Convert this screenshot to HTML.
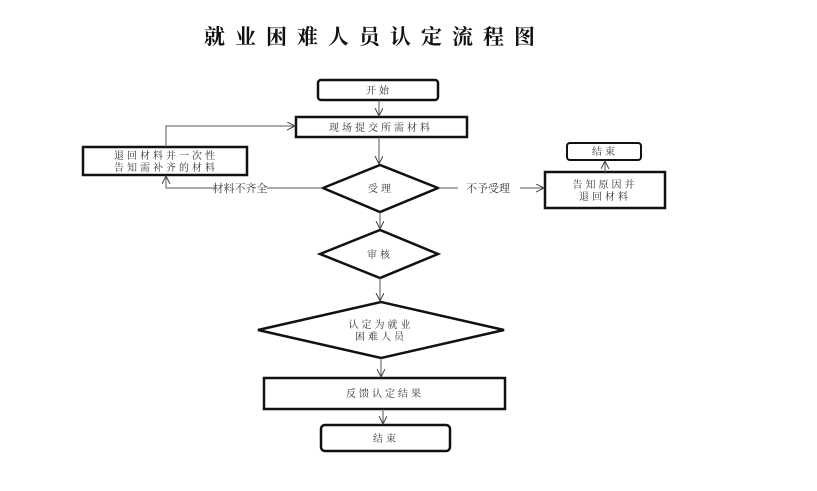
<!DOCTYPE html>
<html><head><meta charset="utf-8"><style>
body{margin:0;background:#fff;width:817px;height:486px;overflow:hidden}
svg text{font-family:"Liberation Serif","Noto Serif CJK SC","Noto Sans CJK SC",serif;fill:#333}
</style></head><body>
<svg width="817" height="486" xmlns="http://www.w3.org/2000/svg">
<defs><marker id="a" markerWidth="10" markerHeight="10" refX="8" refY="4" orient="auto" markerUnits="userSpaceOnUse"><path d="M0,0 L8,4 L0,8" fill="none" stroke="#444" stroke-width="1"/></marker></defs>
<text x="204" y="44" font-size="21" font-weight="bold" letter-spacing="10" style="fill:#111">就业困难人员认定流程图</text>
<g stroke="#111" fill="none">
<rect x="318" y="80" width="120" height="20" rx="3" stroke-width="2.5"/>
<rect x="296" y="117" width="171" height="20" stroke-width="2.5"/>
<rect x="83" y="147" width="164" height="28" stroke-width="2.5"/>
<polygon points="323,188 380,165 438,188 380,212" stroke-width="2.5"/>
<rect x="545" y="172" width="120" height="36" stroke-width="2.5"/>
<rect x="567" y="143" width="74" height="17" rx="3" stroke-width="2"/>
<polygon points="320,254 380,230 438,254 380,278" stroke-width="2.5"/>
<polygon points="258,330 381,302 504,330 381,358" stroke-width="2.5"/>
<rect x="264" y="378" width="241" height="31" stroke-width="2.5"/>
<rect x="321" y="425" width="129" height="26" rx="4" stroke-width="2.5"/>
</g>
<g stroke="#555" stroke-width="1" fill="none">
<line x1="379" y1="100" x2="379" y2="116" marker-end="url(#a)"/>
<line x1="379" y1="137" x2="379" y2="164" marker-end="url(#a)"/>
<line x1="380" y1="212" x2="380" y2="229" marker-end="url(#a)"/>
<line x1="380" y1="278" x2="380" y2="301" marker-end="url(#a)"/>
<line x1="381" y1="358" x2="381" y2="377" marker-end="url(#a)"/>
<line x1="383" y1="409" x2="383" y2="424" marker-end="url(#a)"/>
<polyline points="166,147 166,126 295,126" marker-end="url(#a)"/>
<line x1="323" y1="188" x2="267" y2="188"/>
<polyline points="214,188 166,188 166,176" marker-end="url(#a)"/>
<line x1="438" y1="188" x2="458" y2="188"/>
<line x1="520" y1="188" x2="544" y2="188" marker-end="url(#a)"/>
<line x1="605" y1="172" x2="605" y2="161" marker-end="url(#a)"/>
</g>
<g font-size="10" text-anchor="middle" letter-spacing="3">
<text x="379" y="94">开始</text>
<text x="381" y="131">现场提交所需材料</text>
<text x="166" y="159">退回材料并一次性</text>
<text x="166" y="171">告知需补齐的材料</text>
<text x="381" y="192">受理</text>
<text x="605" y="188">告知原因并</text>
<text x="605" y="200">退回材料</text>
<text x="605" y="155">结束</text>
<text x="380" y="258">审核</text>
<text x="381" y="328">认定为就业</text>
<text x="381" y="340">困难人员</text>
<text x="385" y="397">反馈认定结果</text>
<text x="386" y="442">结束</text>
</g>
<g font-size="11" text-anchor="middle">
<text x="240" y="192">材料不齐全</text>
<text x="488" y="192">不予受理</text>
</g>
</svg>
</body></html>
